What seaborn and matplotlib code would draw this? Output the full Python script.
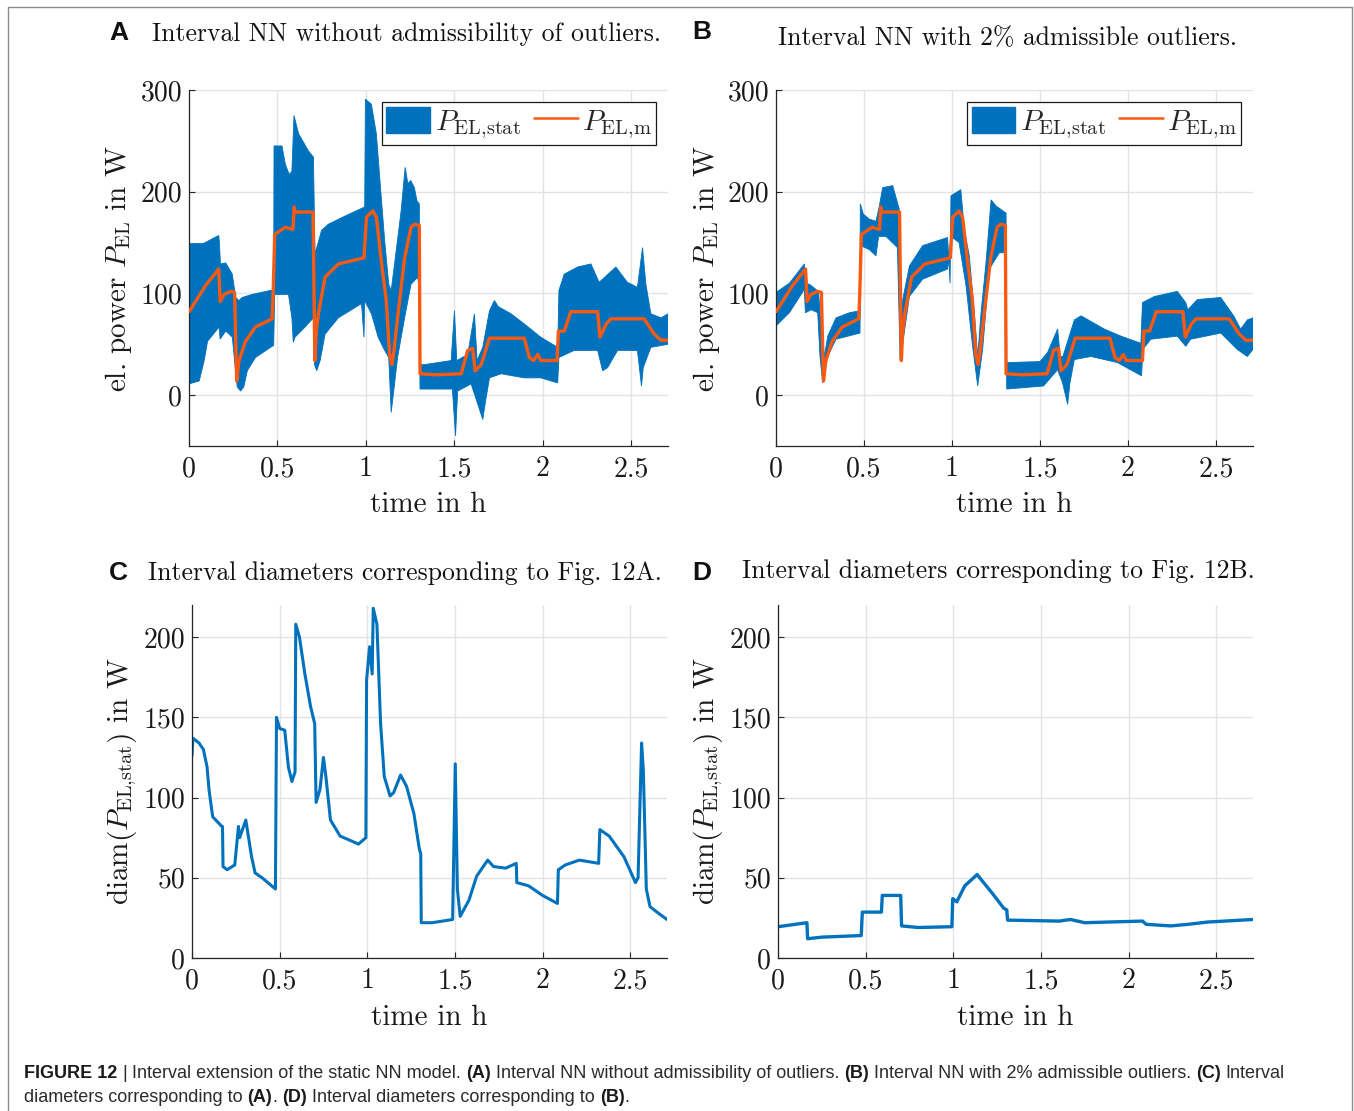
import numpy as np
import seaborn as sns
import matplotlib.pyplot as plt
from matplotlib.patches import Patch
from matplotlib.lines import Line2D
from matplotlib import font_manager

# ---- measured power P_EL,m (same in A and B) ----
t_m = [0.0, 0.095, 0.168, 0.172, 0.176, 0.198, 0.236, 0.258, 0.263, 0.27, 0.283, 0.32, 0.376, 0.47,
       0.476, 0.485, 0.545, 0.588, 0.595, 0.60, 0.702, 0.706, 0.712, 0.72, 0.732, 0.77, 0.845, 0.99,
       1.004, 1.04, 1.06, 1.088, 1.116, 1.135, 1.148, 1.16, 1.18, 1.22, 1.256, 1.275, 1.303, 1.307,
       1.40, 1.54, 1.577, 1.605, 1.619, 1.653, 1.70, 1.897, 1.926, 1.95, 1.973, 1.99, 2.082, 2.09,
       2.123, 2.16, 2.312, 2.325, 2.36, 2.387, 2.575, 2.632, 2.67, 2.71]
p_m = [82, 108, 124, 110, 92, 99, 102, 101, 62, 14, 34, 53, 67, 75,
       100, 158, 165, 163, 185, 180, 180, 120, 34, 63, 80, 116, 129, 135,
       175, 181, 175, 132, 93, 40, 30, 44, 76, 135, 165, 168, 167, 21,
       20, 21, 44, 46, 24, 30, 56, 56, 37, 34, 40, 34, 34, 63,
       63, 82, 82, 57, 70, 75, 75, 60, 54, 54]

# ---- A: interval NN without admissible outliers (envelope of P_EL,stat) ----
a_t_up = [0.0, 0.08, 0.168, 0.172, 0.178, 0.208, 0.245, 0.264, 0.283, 0.30, 0.357, 0.461, 0.479,
          0.481, 0.526, 0.545, 0.567, 0.582, 0.594, 0.62, 0.676, 0.704, 0.713, 0.75, 0.788, 0.882,
          0.994, 0.998, 1.032, 1.06, 1.079, 1.107, 1.13, 1.144, 1.163, 1.20, 1.223, 1.238, 1.255,
          1.275, 1.29, 1.303, 1.307, 1.332, 1.483, 1.502, 1.515, 1.577, 1.615, 1.63, 1.662, 1.70,
          1.728, 1.75, 1.822, 1.897, 1.99, 2.086, 2.093, 2.123, 2.199, 2.274, 2.32, 2.34, 2.415,
          2.48, 2.537, 2.566, 2.585, 2.613, 2.67, 2.71]
a_up = [149, 149, 157, 150, 129, 130, 119, 96, 93, 96, 99, 103, 103,
        245, 245, 227, 217, 220, 275, 257, 240, 234, 139, 162, 168, 176,
        185, 291, 286, 257, 214, 152, 109, 103, 129, 181, 224, 208, 211,
        204, 191, 188, 30, 30, 34, 83, 34, 40, 80, 34, 47, 83,
        93, 87, 80, 70, 57, 47, 103, 119, 126, 129, 111, 114, 126,
        111, 106, 145, 109, 80, 76, 80]
a_t_lo = [0.0, 0.058, 0.086, 0.105, 0.152, 0.17, 0.176, 0.208, 0.245, 0.26, 0.273, 0.292, 0.31,
          0.33, 0.376, 0.479, 0.485, 0.563, 0.582, 0.59, 0.60, 0.657, 0.704, 0.71, 0.723, 0.742,
          0.77, 0.845, 0.976, 0.99, 0.994, 1.032, 1.07, 1.107, 1.13, 1.144, 1.163, 1.18, 1.22, 1.256,
          1.294, 1.303, 1.307, 1.332, 1.49, 1.508, 1.52, 1.596, 1.634, 1.662, 1.675, 1.70, 1.766,
          1.897, 1.99, 2.086, 2.093, 2.18, 2.312, 2.34, 2.368, 2.425, 2.537, 2.56, 2.57, 2.613, 2.71]
a_lo = [11, 14, 34, 53, 63, 67, 55, 63, 57, 30, 8, 4, 8,
        24, 37, 49, 99, 99, 76, 52, 57, 67, 76, 30, 24, 34,
        60, 76, 90, 57, 93, 80, 57, 44, 37, -17, 11, 37, 76, 109,
        116, 103, 6, 6, 6, -40, 4, 11, -9, -24, -9, 17, 21,
        17, 17, 12, 37, 44, 44, 24, 27, 44, 44, 9, 27, 47, 50]

# ---- B: interval NN with 2 % admissible outliers ----
b_t_up = [0.0, 0.076, 0.161, 0.167, 0.19, 0.227, 0.242, 0.256, 0.275, 0.294, 0.341, 0.417, 0.477,
          0.479, 0.496, 0.53, 0.568, 0.587, 0.606, 0.663, 0.70, 0.706, 0.72, 0.758, 0.833, 0.975,
          0.989, 0.994, 1.05, 1.07, 1.098, 1.127, 1.146, 1.165, 1.193, 1.222, 1.25, 1.307, 1.311,
          1.5, 1.543, 1.60, 1.615, 1.63, 1.695, 1.733, 1.865, 1.96, 2.073, 2.082, 2.15, 2.28, 2.328,
          2.34, 2.394, 2.527, 2.60, 2.64, 2.678, 2.71]
b_up = [101, 110, 129, 110, 109, 104, 101, 68, 38, 58, 76, 81, 83,
        188, 178, 173, 171, 186, 204, 206, 183, 78, 94, 127, 147, 155,
        110, 196, 202, 163, 137, 81, 38, 81, 130, 192, 186, 179, 32,
        33, 42, 65, 38, 38, 74, 78, 65, 58, 51, 91, 97, 102, 91,
        84, 94, 96, 78, 65, 74, 76]
b_t_lo = [0.0, 0.076, 0.161, 0.167, 0.20, 0.237, 0.25, 0.265, 0.294, 0.341, 0.477, 0.483, 0.53,
          0.568, 0.583, 0.625, 0.69, 0.705, 0.72, 0.758, 0.833, 0.975, 0.994, 1.04, 1.08, 1.117,
          1.146, 1.174, 1.212, 1.269, 1.303, 1.311, 1.52, 1.60, 1.628, 1.657, 1.67, 1.695, 1.79,
          1.94, 2.077, 2.084, 2.13, 2.28, 2.328, 2.356, 2.527, 2.62, 2.678, 2.71]
b_lo = [68, 81, 104, 81, 84, 81, 38, 12, 38, 55, 61, 147, 143,
        137, 156, 156, 145, 35, 51, 97, 114, 124, 156, 150, 107, 48,
        9, 45, 124, 140, 140, 6, 9, 25, 12, -9, 12, 35, 38,
        32, 19, 45, 55, 58, 48, 55, 61, 45, 38, 45]

# ---- C: interval diameters for A ----
c_t = [0.0, 0.005, 0.04, 0.065, 0.086, 0.097, 0.118, 0.17, 0.174, 0.177, 0.20, 0.244, 0.265, 0.272,
       0.307, 0.34, 0.36, 0.40, 0.476, 0.482, 0.50, 0.529, 0.55, 0.57, 0.588, 0.592, 0.613, 0.644,
       0.676, 0.70, 0.708, 0.73, 0.75, 0.764, 0.79, 0.845, 0.95, 0.992, 0.996, 1.013, 1.028, 1.034,
       1.055, 1.076, 1.097, 1.13, 1.15, 1.19, 1.224, 1.266, 1.297, 1.305, 1.308, 1.37, 1.487, 1.502,
       1.514, 1.53, 1.58, 1.624, 1.687, 1.72, 1.79, 1.85, 1.853, 1.92, 2.0, 2.085, 2.09, 2.13, 2.21,
       2.32, 2.327, 2.38, 2.465, 2.53, 2.545, 2.565, 2.575, 2.592, 2.613, 2.66, 2.71]
c_d = [126, 137, 134, 130, 119, 105, 88, 82, 82, 57, 55, 58, 82, 75,
       86, 63, 53, 50, 43, 150, 143, 142, 119, 110, 116, 208, 200, 177,
       157, 146, 97, 105, 125, 113, 86, 76, 71, 75, 173, 194, 177, 218,
       208, 146, 113, 101, 103, 114, 107, 90, 68, 65, 22, 22, 24, 121,
       43, 26, 36, 51, 61, 57, 56, 59, 47, 45, 39, 34, 55, 58, 61,
       59, 80, 76, 63, 47, 50, 134, 117, 43, 32, 28, 24]

# ---- D: interval diameters for B ----
d_t = [0.0, 0.165, 0.169, 0.25, 0.475, 0.481, 0.59, 0.595, 0.70, 0.705, 0.80, 0.992, 0.997, 1.02,
       1.066, 1.136, 1.225, 1.288, 1.305, 1.31, 1.605, 1.668, 1.75, 2.08, 2.10, 2.24, 2.34, 2.45, 2.71]
d_d = [19.5, 22, 12, 13, 14, 28.6, 28.6, 39, 39, 20, 19, 19.5, 37, 35,
       45, 52, 40, 31, 30, 23.6, 23, 24, 22, 23, 21, 20, 21, 22.4, 24]

titles = {
    'A': 'Interval NN without admissibility of outliers.',
    'B': 'Interval NN with 2% admissible outliers.',
    'C': 'Interval diameters corresponding to Fig. 12A.',
    'D': 'Interval diameters corresponding to Fig. 12B.',
}
x_ticks = [0, 0.5, 1, 1.5, 2, 2.5]
x_tick_labels = ['0', '0.5', '1', '1.5', '2', '2.5']

BLUE = '#0072BD'
ORANGE = '#F85A12'
W, H = 1354, 1111

sns.set_style('whitegrid', {'grid.color': '#E3E3E3', 'axes.edgecolor': '#262626'})
plt.rcParams['font.family'] = ['cmr10']
plt.rcParams['mathtext.fontset'] = 'cm'
plt.rcParams['axes.formatter.use_mathtext'] = True


def pick_font(names):
    for n in names:
        try:
            font_manager.findfont(n, fallback_to_default=False)
            return n
        except Exception:
            pass
    return 'DejaVu Sans'


SANS = pick_font(['Liberation Sans Narrow', 'Liberation Sans', 'Roboto'])
SANS_BOLD_LETTER = pick_font(['Liberation Sans', 'Roboto'])


def fx(x):
    return x / W


def fy(y):
    return 1 - y / H


def style_axes(ax, ylim, yticks, ylabel, lab_x, lab_y):
    ax.set_xlim(0, 2.71)
    ax.set_ylim(*ylim)
    ax.set_xticks(x_ticks)
    ax.set_xticklabels(x_tick_labels)
    ax.set_yticks(yticks)
    ax.set_yticklabels([str(v) for v in yticks])
    ax.tick_params(direction='in', length=4, width=0.8, color='#262626', labelsize=20,
                   labelcolor='#1a1a1a', left=True, bottom=True)
    ax.tick_params(axis='x', pad=7)
    ax.tick_params(axis='y', pad=5)
    for s in ['top', 'right']:
        ax.spines[s].set_visible(False)
    for s in ['left', 'bottom']:
        ax.spines[s].set_linewidth(0.9)
    ax.grid(True, lw=1.0)
    ax.set_axisbelow(True)
    ax.set_xlabel('time in h', fontsize=21, color='#1a1a1a')
    ax.set_ylabel(ylabel, fontsize=21, color='#1a1a1a')
    ax.xaxis.set_label_coords(0.5, lab_y)
    ax.yaxis.set_label_coords(lab_x, 0.5)


def band_panel(ax, t_up, up, t_lo, lo):
    ax.fill(np.concatenate([t_up, t_lo[::-1]]), np.concatenate([up, lo[::-1]]),
            color=BLUE, lw=0.6, edgecolor=BLUE, zorder=2)
    sns.lineplot(x=t_m, y=p_m, ax=ax, color=ORANGE, lw=2.4, estimator=None, sort=False, zorder=3)
    handles = [Patch(facecolor=BLUE, edgecolor=BLUE),
               Line2D([], [], color=ORANGE, lw=1.8)]
    leg = ax.legend(handles, [r'$P_{\mathrm{EL{,}stat}}$', r'$P_{\mathrm{EL{,}m}}$'], ncol=2,
                    loc='upper right', bbox_to_anchor=(0.975, 0.965), fontsize=21,
                    frameon=True, fancybox=False, framealpha=1, edgecolor='#1a1a1a',
                    handlelength=1.5, handleheight=1.0, columnspacing=0.45,
                    handletextpad=0.15, borderpad=0.15, borderaxespad=0.0)
    leg.get_frame().set_linewidth(0.9)
    style_axes(ax, (-50, 300), [0, 100, 200, 300],
               r'el. power $P_{\mathrm{EL}}$ in W', -0.114, -0.129)


fig = plt.figure(figsize=(W / 100, H / 100), dpi=100)
ax_a = fig.add_axes([fx(189), fy(446), (668 - 189) / W, (446 - 90) / H])
ax_b = fig.add_axes([fx(776), fy(446), (1253 - 776) / W, (446 - 90) / H])
ax_c = fig.add_axes([fx(192), fy(958), (667 - 192) / W, (958 - 605) / H])
ax_d = fig.add_axes([fx(778), fy(958), (1253 - 778) / W, (958 - 605) / H])

band_panel(ax_a, np.array(a_t_up), np.array(a_up), np.array(a_t_lo), np.array(a_lo))
band_panel(ax_b, np.array(b_t_up), np.array(b_up), np.array(b_t_lo), np.array(b_lo))

diam_label = r'$\mathrm{diam}\left(P_{\mathrm{EL{,}stat}}\right)$ in W'
sns.lineplot(x=c_t, y=c_d, ax=ax_c, color=BLUE, lw=2.2, estimator=None, sort=False)
style_axes(ax_c, (0, 220), [0, 50, 100, 150, 200], diam_label, -0.11, -0.133)
sns.lineplot(x=d_t, y=d_d, ax=ax_d, color=BLUE, lw=2.4, estimator=None, sort=False)
style_axes(ax_d, (0, 220), [0, 50, 100, 150, 200], diam_label, -0.11, -0.133)

# panel letters and titles
title_pos = {'A': (109, 33, 152, 34), 'B': (692, 32, 778, 38),
             'C': (109, 573, 148, 573), 'D': (692, 573, 742, 571)}
for key, (lx, ly, tx, ty) in title_pos.items():
    fig.text(fx(lx), fy(ly), key, family=SANS_BOLD_LETTER,
             fontweight='bold', fontsize=19, va='center', ha='left', color='#111111')
    fig.text(fx(tx), fy(ty), titles[key], fontsize=18.5, va='center', ha='left', color='#111111')

# outer frame
for xs, ys in [([8, 8], [1111, 7]), ([8, 1352], [7, 7]), ([1352, 1352], [7, 1111])]:
    fig.add_artist(Line2D([fx(v) for v in xs], [fy(v) for v in ys], transform=fig.transFigure,
                          color='#8c8c8c', lw=1.0))

# caption with mixed bold / regular pieces
caption_lines = [
    [('FIGURE 12', 'bold'), ('|', 'normal'), ('Interval extension of the static NN model.', 'normal'),
     ('(A)', 'bold'), ('Interval NN without admissibility of outliers.', 'normal'), ('(B)', 'bold'),
     ('Interval NN with 2% admissible outliers.', 'normal'), ('(C)', 'bold'), ('Interval', 'normal')],
    [('diameters corresponding to', 'normal'), ('(A)', 'bold'), ('.', 'normal-nospace'), ('(D)', 'bold'),
     ('Interval diameters corresponding to', 'normal'), ('(B)', 'bold'), ('.', 'normal-nospace')],
]
fig.canvas.draw()
renderer = fig.canvas.get_renderer()
cap_size = 12.95
probe1 = fig.text(0, 0, 'a a', family=SANS, fontsize=cap_size)
probe2 = fig.text(0, 0, 'aa', family=SANS, fontsize=cap_size)
space_w = probe1.get_window_extent(renderer).width - probe2.get_window_extent(renderer).width
probe1.remove()
probe2.remove()
for line, ypix in zip(caption_lines, [1073, 1097]):
    xpix = 24
    for i, (txt, kind) in enumerate(line):
        if kind == 'normal-nospace':
            xpix -= space_w
        weight = 'bold' if kind == 'bold' else 'normal'
        t = fig.text(fx(xpix), fy(ypix), txt, family=SANS, fontsize=cap_size, fontweight=weight,
                     va='center', ha='left', color='#1a1a1a' if weight == 'bold' else '#2b2b2b')
        xpix += t.get_window_extent(renderer).width + space_w

fig.savefig('out.png', dpi=100)
